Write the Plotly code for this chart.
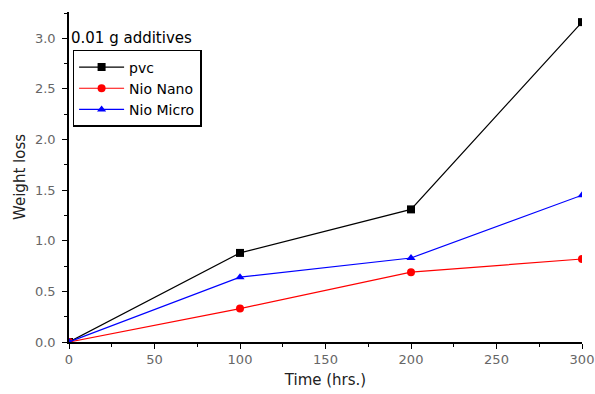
import plotly.graph_objects as go

time_hrs = [0, 100, 200, 300]
pvc = [0.0, 0.88, 1.31, 3.16]
nio_nano = [0.0, 0.33, 0.69, 0.82]
nio_micro = [0.0, 0.64, 0.83, 1.45]

series = [
    ("pvc", pvc, "black", "square"),
    ("Nio Nano", nio_nano, "red", "circle"),
    ("Nio Micro", nio_micro, "blue", "triangle-up"),
]

FONT = "DejaVu Sans, Liberation Sans, Arial"

fig = go.Figure()
for name, vals, color, sym in series:
    fig.add_trace(go.Scatter(
        x=time_hrs, y=vals, name=name, mode="lines+markers",
        line=dict(color=color, width=1.2),
        marker=dict(color=color, symbol=sym, size=8),
    ))

axis_common = dict(
    showgrid=False, zeroline=False, showline=True, linecolor="black", linewidth=1.5,
    ticks="outside", ticklen=5, tickwidth=1.2, tickcolor="black",
    tickfont=dict(family=FONT, size=13, color="#666666"),
    minor=dict(ticks="outside", ticklen=3, tickwidth=1, tickcolor="black"),
    automargin=False,
)

fig.update_xaxes(range=[0, 300], tick0=0, dtick=50, minor_dtick=25,
                 title=dict(text="Time (hrs.)", font=dict(family=FONT, size=15, color="#222222"), standoff=8),
                 **axis_common)
fig.update_yaxes(range=[0, 3.26], tick0=0, dtick=0.5, minor_dtick=0.25, tickformat=".1f",
                 ticklabelstandoff=4,
                 title=dict(text="Weight loss", font=dict(family=FONT, size=15, color="#222222"), standoff=6),
                 **axis_common)

fig.add_annotation(text="0.01 g additives", xref="paper", yref="paper", x=0.0, y=0.922,
                   xanchor="left", yanchor="middle", showarrow=False,
                   font=dict(family=FONT, size=15, color="black"))

fig.update_layout(
    width=595, height=394,
    margin=dict(l=69, r=13, t=12, b=52),
    paper_bgcolor="white", plot_bgcolor="white",
    showlegend=True,
    legend=dict(x=0.007, y=0.885, xanchor="left", yanchor="top",
                bordercolor="black", borderwidth=1.5, bgcolor="white",
                font=dict(family=FONT, size=14, color="black"),
                tracegroupgap=0, itemwidth=45),
)

fig.write_html("out.html")
